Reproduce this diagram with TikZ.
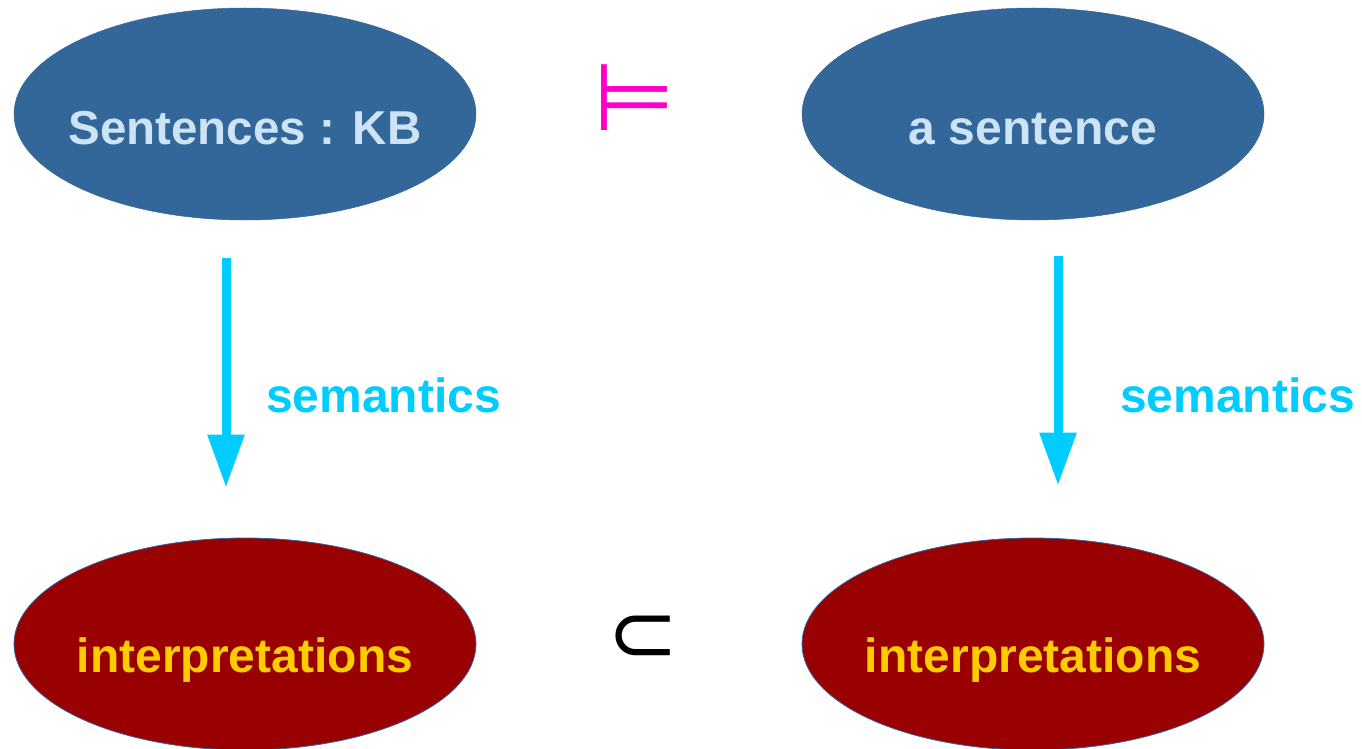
\documentclass[tikz,border=0pt]{standalone}
\usepackage{fontspec}
\setmainfont{Liberation Sans}
\newfontfamily\symfont{DejaVu Sans}
\usetikzlibrary{shapes.geometric,arrows.meta}
\definecolor{topfill}{RGB}{52,103,153}
\definecolor{toptext}{RGB}{204,228,246}
\definecolor{botfill}{RGB}{153,0,0}
\definecolor{botedge}{RGB}{52,101,164}
\definecolor{bottext}{RGB}{255,204,0}
\definecolor{semcol}{RGB}{0,204,255}
\definecolor{entcol}{RGB}{255,0,204}
\tikzset{
  topell/.style={ellipse, fill=topfill, draw=topfill, line width=0.5pt, minimum width=462pt, minimum height=212pt, inner sep=0pt},
  botell/.style={ellipse, fill=botfill, draw=botedge, line width=0.8pt, minimum width=462pt, minimum height=212pt, inner sep=0pt},
  bigtxt/.style={font=\fontsize{48}{56}\selectfont\bfseries, anchor=base, inner sep=0pt},
  semarrow/.style={draw=semcol, line width=9pt, -{Triangle[width=35pt,length=53pt]}},
  semlabel/.style={font=\fontsize{48}{56}\selectfont\bfseries, text=semcol, anchor=base west, inner sep=0pt},
  symtxt/.style={inner sep=0pt}
}
\begin{document}
\begin{tikzpicture}[x=1pt,y=-1pt]
\useasboundingbox (0,0) rectangle (1362,749);
\node[topell] (kb) at (245,114) {};
\node[topell] (sent) at (1033,114) {};
\node[botell] (int1) at (245,644) {};
\node[botell] (int2) at (1033,644) {};
\node[bigtxt, text=toptext, font=\fontsize{47.5}{56}\selectfont\bfseries] (kbt) at (245,145) {Sentences : KB};
\node[bigtxt, text=toptext] (sentt) at (1033,145) {a sentence};
\node[bigtxt, text=bottext] (int1t) at (245,672) {interpretations};
\node[bigtxt, text=bottext] (int2t) at (1033,672) {interpretations};
\draw[semarrow] ([xshift=-19pt,yshift=-38pt]kb.south) -- ([xshift=-19pt,yshift=50pt]int1.north);
\draw[semarrow] ([xshift=25pt,yshift=-36pt]sent.south) -- ([xshift=25pt,yshift=52pt]int2.north);
\node[semlabel] (sem1) at (266,412) {semantics};
\node[semlabel] (sem2) at (1120,412) {semantics};
\node[symtxt, text=entcol, font=\symfont\fontsize{94}{94}\selectfont] (ent) at (634,98) {⊨};
\node[symtxt, text=black, font=\symfont\fontsize{85}{85}\selectfont] (sub) at (643,639) {⊂};
\end{tikzpicture}
\end{document}
